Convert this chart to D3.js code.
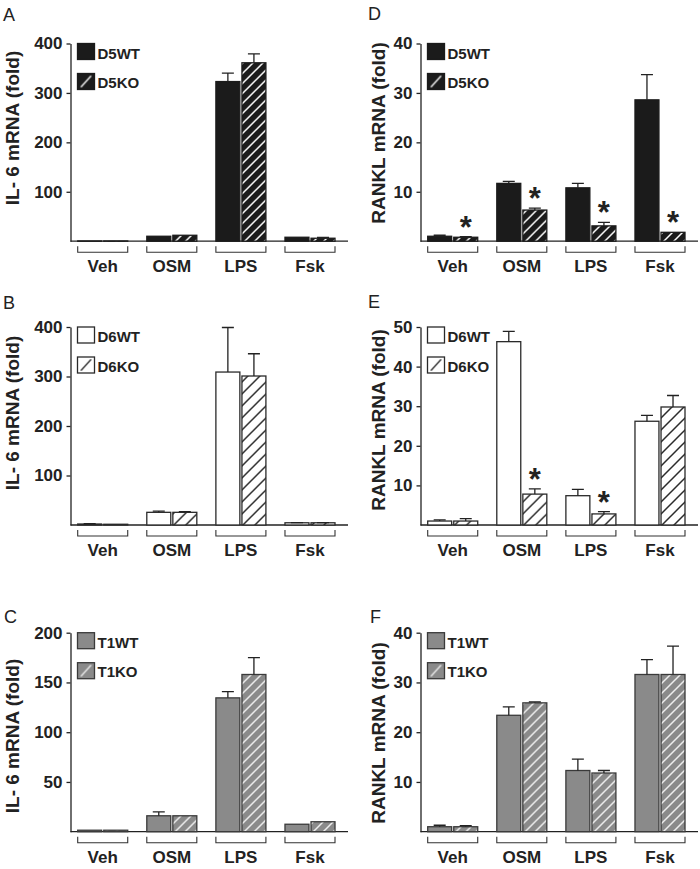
<!DOCTYPE html>
<html><head><meta charset="utf-8">
<script src="https://cdn.jsdelivr.net/npm/d3@7"></script>
<style>body{margin:0;background:#fff} svg{display:block}</style>
</head><body>
<svg id="c" width="700" height="869"></svg>
<script>
const categories = ["Veh","OSM","LPS","Fsk"];

// A: IL-6, D5
const il6_D5WT = [0.5, 10, 323, 8];
const il6_D5WT_err = [0, 0, 17, 0];
const il6_D5KO = [0.5, 12, 361, 6];
const il6_D5KO_err = [0, 0, 18, 1.5];
// D: RANKL, D5
const rankl_D5WT = [1.0, 11.7, 10.8, 28.6];
const rankl_D5WT_err = [0.2, 0.4, 0.9, 5.1];
const rankl_D5KO = [0.8, 6.3, 3.1, 1.8];
const rankl_D5KO_err = [0.1, 0.4, 0.7, 0];
const rankl_D5_sig = [true, true, true, true];
// B: IL-6, D6
const il6_D6WT = [2, 25.6, 309, 4.5];
const il6_D6WT_err = [0.5, 2.5, 90, 0.5];
const il6_D6KO = [1.5, 25.6, 301, 4.5];
const il6_D6KO_err = [0, 1.5, 45, 0.5];
// E: RANKL, D6
const rankl_D6WT = [1.0, 46.3, 7.4, 26.2];
const rankl_D6WT_err = [0.3, 2.6, 1.6, 1.5];
const rankl_D6KO = [1.0, 7.8, 2.8, 29.8];
const rankl_D6KO_err = [0.6, 1.3, 0.6, 2.9];
const rankl_D6_sig = [false, true, true, false];
// C: IL-6, T1
const il6_T1WT = [1.5, 16, 134.5, 7.5];
const il6_T1WT_err = [0, 4, 6.3, 0];
const il6_T1KO = [1.5, 16, 158, 10];
const il6_T1KO_err = [0, 0, 17, 0];
// F: RANKL, T1
const rankl_T1WT = [1.0, 23.4, 12.3, 31.6];
const rankl_T1WT_err = [0.3, 1.7, 2.3, 3.0];
const rankl_T1KO = [1.0, 25.9, 11.8, 31.6];
const rankl_T1KO_err = [0.2, 0.2, 0.5, 5.7];

const il6Ticks_400 = [100, 200, 300, 400];
const il6Ticks_200 = [50, 100, 150, 200];
const ranklTicks_40 = [10, 20, 30, 40];
const ranklTicks_50 = [10, 20, 30, 40, 50];

const il6Title = "IL- 6 mRNA (fold)";
const ranklTitle = "RANKL mRNA (fold)";

const styles = {
  d5: {fill: "#1b1b1b", stroke: "#1b1b1b", line: "#ffffff", sp: 10},
  d6: {fill: "#ffffff", stroke: "#2a2a2a", line: "#2a2a2a", sp: 12},
  t1: {fill: "#8a8a8a", stroke: "#3a3a3a", line: "#eeeeee", sp: 10}
};

const panels = [
  {letter:"A", col:0, row:0, title:il6Title, ticks:il6Ticks_400, names:["D5WT","D5KO"], st:"d5",
   wt:il6_D5WT, wtErr:il6_D5WT_err, ko:il6_D5KO, koErr:il6_D5KO_err, sig:null, lx:3, ly:21, tc:128},
  {letter:"D", col:1, row:0, title:ranklTitle, ticks:ranklTicks_40, names:["D5WT","D5KO"], st:"d5",
   wt:rankl_D5WT, wtErr:rankl_D5WT_err, ko:rankl_D5KO, koErr:rankl_D5KO_err, sig:rankl_D5_sig, lx:368, ly:20, tc:133},
  {letter:"B", col:0, row:1, title:il6Title, ticks:il6Ticks_400, names:["D6WT","D6KO"], st:"d6",
   wt:il6_D6WT, wtErr:il6_D6WT_err, ko:il6_D6KO, koErr:il6_D6KO_err, sig:null, lx:3, ly:308.5, tc:413},
  {letter:"E", col:1, row:1, title:ranklTitle, ticks:ranklTicks_50, names:["D6WT","D6KO"], st:"d6",
   wt:rankl_D6WT, wtErr:rankl_D6WT_err, ko:rankl_D6KO, koErr:rankl_D6KO_err, sig:rankl_D6_sig, lx:368, ly:308, tc:420},
  {letter:"C", col:0, row:2, title:il6Title, ticks:il6Ticks_200, names:["T1WT","T1KO"], st:"t1",
   wt:il6_T1WT, wtErr:il6_T1WT_err, ko:il6_T1KO, koErr:il6_T1KO_err, sig:null, lx:4, ly:623, tc:736},
  {letter:"F", col:1, row:2, title:ranklTitle, ticks:ranklTicks_40, names:["T1WT","T1KO"], st:"t1",
   wt:rankl_T1WT, wtErr:rankl_T1WT_err, ko:rankl_T1KO, koErr:rankl_T1KO_err, sig:null, lx:370, ly:623, tc:733}
];

const colX = [70.5, 420.5];
const titleX = [19, 385];
const rowTop = [43.5, 327, 632.7];
const rowBase = [241.2, 525, 831.7];
const axisLen = 277.5;
const FONT = "'Liberation Sans', Arial, Helvetica, sans-serif";

const svg = d3.select("#c");
const defs = svg.append("defs");
Object.entries(styles).forEach(([k, s]) => {
  const p = defs.append("pattern").attr("id", "hatch-" + k)
    .attr("patternUnits", "userSpaceOnUse").attr("width", s.sp).attr("height", s.sp);
  p.append("rect").attr("width", s.sp).attr("height", s.sp).attr("fill", s.fill);
  const n = s.sp;
  p.append("path").attr("d", `M-2,2 L2,-2 M0,${n} L${n},0 M${n-2},${n+2} L${n+2},${n-2}`)
    .attr("stroke", s.line).attr("stroke-width", 1.5).attr("fill", "none");
  // legend swatch pattern: single centered stripe
  const q = defs.append("pattern").attr("id", "leg-" + k)
    .attr("patternUnits", "objectBoundingBox").attr("patternContentUnits", "objectBoundingBox")
    .attr("width", 1).attr("height", 1);
  q.append("rect").attr("width", 1).attr("height", 1).attr("fill", s.fill);
  q.append("path").attr("d", "M0.2,0.85 L0.8,0.15")
    .attr("stroke", s.line).attr("stroke-width", 0.09).attr("fill", "none");
});

panels.forEach(P => {
  const ax = colX[P.col], top = rowTop[P.row], base = rowBase[P.row];
  const s = styles[P.st];
  const g = svg.append("g");
  const max = P.ticks[P.ticks.length - 1];
  const y = d3.scaleLinear().domain([0, max]).range([base, top]);
  const x0 = d3.scaleBand().domain(categories).range([ax + 7.2, ax + 264.5]).paddingInner(0.276);
  const x1 = d3.scaleBand().domain(["WT", "KO"]).range([0, x0.bandwidth()]).paddingInner(0.08);

  // panel letter
  g.append("text").attr("x", P.lx).attr("y", P.ly).text(P.letter)
    .attr("font-family", FONT).attr("font-size", 18).attr("fill", "#222");

  // y title
  g.append("text").attr("transform", `translate(${titleX[P.col]},${P.tc}) rotate(-90)`)
    .attr("text-anchor", "middle").attr("font-family", FONT).attr("font-weight", "bold")
    .attr("font-size", 19).attr("fill", "#222").text(P.title);

  // y axis
  const yAxis = g.append("g").attr("transform", `translate(${ax},0)`)
    .call(d3.axisLeft(y).tickValues(P.ticks).tickSize(4).tickSizeOuter(0).tickPadding(4));
  yAxis.select(".domain").attr("stroke", "#222").attr("stroke-width", 1.3);
  yAxis.selectAll(".tick line").attr("stroke", "#222").attr("stroke-width", 1.3);
  yAxis.selectAll(".tick text").attr("font-family", FONT).attr("font-weight", "bold")
    .attr("font-size", 17).attr("fill", "#222");

  // x axis line
  g.append("line").attr("x1", ax).attr("x2", ax + axisLen).attr("y1", base).attr("y2", base)
    .attr("stroke", "#222").attr("stroke-width", 1.3);

  // bars
  const rows = categories.map((c, i) => ({c, i}));
  const grp = g.selectAll(".grp").data(rows).join("g")
    .attr("transform", d => `translate(${x0(d.c)},0)`);
  const series = [
    {k: "WT", v: P.wt, e: P.wtErr, fill: s.fill},
    {k: "KO", v: P.ko, e: P.koErr, fill: `url(#hatch-${P.st})`}
  ];
  series.forEach(S => {
    grp.append("rect")
      .attr("x", x1(S.k)).attr("width", x1.bandwidth())
      .attr("y", d => y(S.v[d.i])).attr("height", d => base - y(S.v[d.i]))
      .attr("fill", S.fill).attr("stroke", s.stroke).attr("stroke-width", 1.3);
    const cx = x1(S.k) + x1.bandwidth() / 2;
    grp.filter(d => S.e[d.i] > 0).append("path")
      .attr("d", d => {
        const y1 = y(S.v[d.i]), y2 = y(S.v[d.i] + S.e[d.i]);
        return `M${cx},${y1} V${y2} M${cx - 6},${y2} H${cx + 6}`;
      })
      .attr("stroke", "#222").attr("stroke-width", 1.3).attr("fill", "none");
    if (S.k === "KO" && P.sig) {
      grp.filter(d => P.sig[d.i]).append("text")
        .attr("x", cx).attr("y", d => y(S.v[d.i] + S.e[d.i]) + 1)
        .attr("text-anchor", "middle").attr("font-family", FONT).attr("font-weight", "bold")
        .attr("font-size", 31).attr("fill", "#222").text("*");
    }
  });

  // brackets + labels
  grp.append("path")
    .attr("d", `M0,${base + 5} V${base + 11} H${x0.bandwidth()} V${base + 5}`)
    .attr("stroke", "#333").attr("stroke-width", 1.1).attr("fill", "none");
  grp.append("text").attr("x", x0.bandwidth() / 2).attr("y", base + 31)
    .attr("text-anchor", "middle").attr("font-family", FONT).attr("font-weight", "bold")
    .attr("font-size", 17).attr("fill", "#222").text(d => d.c);

  // legend
  const leg = [{n: P.names[0], f: s.fill}, {n: P.names[1], f: `url(#leg-${P.st})`}];
  leg.forEach((L, j) => {
    g.append("rect").attr("x", ax + 7).attr("y", top + j * 30).attr("width", 17).attr("height", 16)
      .attr("fill", L.f).attr("stroke", s.stroke).attr("stroke-width", 1.3);
    g.append("text").attr("x", ax + 27).attr("y", top + 15 + j * 29.5)
      .attr("font-family", FONT).attr("font-weight", "bold").attr("font-size", 15)
      .attr("fill", "#222").text(L.n);
  });
});
</script>
</body></html>
